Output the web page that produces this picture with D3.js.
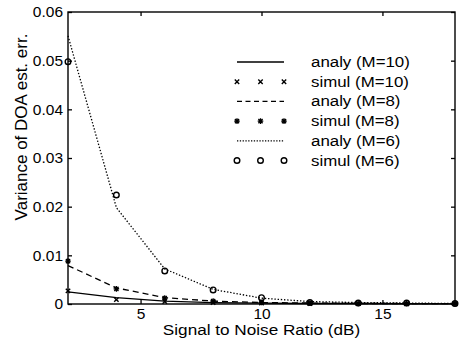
<!DOCTYPE html>
<html>
<head>
<meta charset="utf-8">
<script src="https://cdn.jsdelivr.net/npm/d3@7"></script>
<style>
  body { margin: 0; background: #fff; }
  text { font-family: "Liberation Sans", Arial, sans-serif; fill: #000; }
</style>
</head>
<body>
<svg id="chart" width="459" height="345"></svg>
<script>
// SNR values (dB)
const snr = [2, 4, 6, 8, 10, 12, 14, 16, 18];

// analytical and simulated variances
const analyM10 = [0.0025, 0.0013, 0.0006, 0.0003, 0.0002, 0.0001, 0.0001, 0.00005, 0.00003];
const simulM10 = [0.0027, 0.0009, 0.0005, 0.0003, 0.0002, 0.0001, 0.0001, 0.00005, 0.00003];
const analyM8 = [0.0079, 0.0033, 0.0013, 0.0006, 0.0003, 0.0002, 0.0001, 0.0001, 0.00005];
const simulM8 = [0.0088, 0.0031, 0.0012, 0.0006, 0.0003, 0.0002, 0.0001, 0.0001, 0.00005];
const analyM6 = [0.0551, 0.0198, 0.0072, 0.0030, 0.0012, 0.0005, 0.0003, 0.0002, 0.0001];
const simulM6 = [0.0498, 0.0224, 0.0068, 0.0029, 0.0013, 0.0003, 0.0002, 0.0002, 0.0001];

const xTicks = [5, 10, 15];
const yTicks = [0, 0.01, 0.02, 0.03, 0.04, 0.05, 0.06];

const legendLabels = ["analy (M=10)", "simul (M=10)", "analy (M=8)", "simul (M=8)", "analy (M=6)", "simul (M=6)"];

const svg = d3.select("#chart");
const margin = {left: 68, right: 4, top: 12, bottom: 41};
const W = 459, H = 345;

const x = d3.scaleLinear().domain([2, 18]).range([margin.left, W - margin.right]);
const y = d3.scaleLinear().domain([0, 0.06]).range([H - margin.bottom, margin.top]);

const line = d3.line().x((d, i) => x(snr[i])).y(d => y(d));

// the scanned figure is a little wider than tall, so text gets a horizontal stretch
function stretchedText(g, tx, ty, str, size, sx, anchor) {
    return g.append("text")
        .attr("transform", `translate(${tx},${ty}) scale(${sx},1)`)
        .attr("text-anchor", anchor || "start")
        .attr("font-size", size)
        .text(str);
}

// frame
svg.append("rect")
    .attr("x", x(2)).attr("y", y(0.06))
    .attr("width", x(18) - x(2)).attr("height", y(0) - y(0.06))
    .attr("fill", "none").attr("stroke", "#000").attr("stroke-width", 1.4);

// axes with inward ticks
const xAxis = svg.append("g").attr("transform", `translate(0,${y(0)})`)
    .call(d3.axisBottom(x).tickValues(xTicks).tickSizeInner(-4).tickSizeOuter(0).tickPadding(4));
const xAxisTop = svg.append("g").attr("transform", `translate(0,${y(0.06)})`)
    .call(d3.axisTop(x).tickValues(xTicks).tickSizeInner(-4).tickSizeOuter(0).tickFormat(""));
const yAxis = svg.append("g").attr("transform", `translate(${x(2)},0)`)
    .call(d3.axisLeft(y).tickValues(yTicks).tickSizeInner(-4).tickSizeOuter(0).tickPadding(5)
        .tickFormat(d => d === 0 ? "0" : d3.format(".2f")(d)));
const yAxisRight = svg.append("g").attr("transform", `translate(${x(18)},0)`)
    .call(d3.axisRight(y).tickValues(yTicks).tickSizeInner(-4).tickSizeOuter(0).tickFormat(""));

[xAxis, xAxisTop, yAxis, yAxisRight].forEach(a => {
    a.select(".domain").remove();
    a.selectAll("line").attr("stroke", "#000").attr("stroke-width", 1.3);
    a.selectAll("text").attr("font-size", 15.5).attr("font-family", "Liberation Sans, Arial, sans-serif");
});

// analytical lines
const series = [
    {data: analyM10, dash: null},
    {data: analyM8, dash: "6,4"},
    {data: analyM6, dash: "1.4,1.8"}
];
series.forEach(s => {
    svg.append("path")
        .datum(s.data)
        .attr("d", line)
        .attr("fill", "none")
        .attr("stroke", "#000")
        .attr("stroke-width", 1.3)
        .attr("stroke-dasharray", s.dash);
});

// markers
function drawMarker(g, kind, cx, cy) {
    if (kind === "x") {
        const r = 2.2;
        g.append("path")
            .attr("d", `M${cx - r},${cy - r}L${cx + r},${cy + r}M${cx - r},${cy + r}L${cx + r},${cy - r}`)
            .attr("stroke", "#000").attr("stroke-width", 1.4);
    } else if (kind === "star") {
        const r = 2.8;
        g.append("path")
            .attr("d", `M${cx - r},${cy}L${cx + r},${cy}M${cx},${cy - r}L${cx},${cy + r}` +
                `M${cx - r * 0.75},${cy - r * 0.75}L${cx + r * 0.75},${cy + r * 0.75}` +
                `M${cx - r * 0.75},${cy + r * 0.75}L${cx + r * 0.75},${cy - r * 0.75}`)
            .attr("stroke", "#000").attr("stroke-width", 1.3);
    } else {
        g.append("circle")
            .attr("cx", cx).attr("cy", cy).attr("r", 2.8)
            .attr("fill", "none").attr("stroke", "#000").attr("stroke-width", 1.4);
    }
}

const markers = svg.append("g");
[[simulM10, "x"], [simulM8, "star"], [simulM6, "o"]].forEach(([vals, kind]) => {
    vals.forEach((v, i) => drawMarker(markers, kind, x(snr[i]), y(v)));
});

// legend
const legend = svg.append("g");
const lgX0 = 237, lgX1 = 284, lgText = 311, lgY0 = 62, lgStep = 19.7;
const legendKinds = [
    {type: "line", dash: null},
    {type: "mark", kind: "x"},
    {type: "line", dash: "5,3.5"},
    {type: "mark", kind: "star"},
    {type: "line", dash: "1.3,1.5"},
    {type: "mark", kind: "o"}
];
legendLabels.forEach((label, i) => {
    const ly = lgY0 + i * lgStep;
    const k = legendKinds[i];
    if (k.type === "line") {
        legend.append("line")
            .attr("x1", lgX0).attr("x2", lgX1).attr("y1", ly).attr("y2", ly)
            .attr("stroke", "#000").attr("stroke-width", 1.3)
            .attr("stroke-dasharray", k.dash);
    } else {
        [lgX0, (lgX0 + lgX1) / 2, lgX1].forEach(mx => drawMarker(legend, k.kind, mx, ly));
    }
    stretchedText(legend, lgText, ly + 5, label, 14.3, 1.18);
});

// axis titles
stretchedText(svg, (x(2) + x(18)) / 2, 335, "Signal to Noise Ratio (dB)", 14.3, 1.2, "middle");

svg.append("text")
    .attr("transform", `translate(27,127) rotate(-90)`)
    .attr("text-anchor", "middle")
    .attr("font-size", 17)
    .text("Variance of DOA est. err.");
</script>
</body>
</html>
